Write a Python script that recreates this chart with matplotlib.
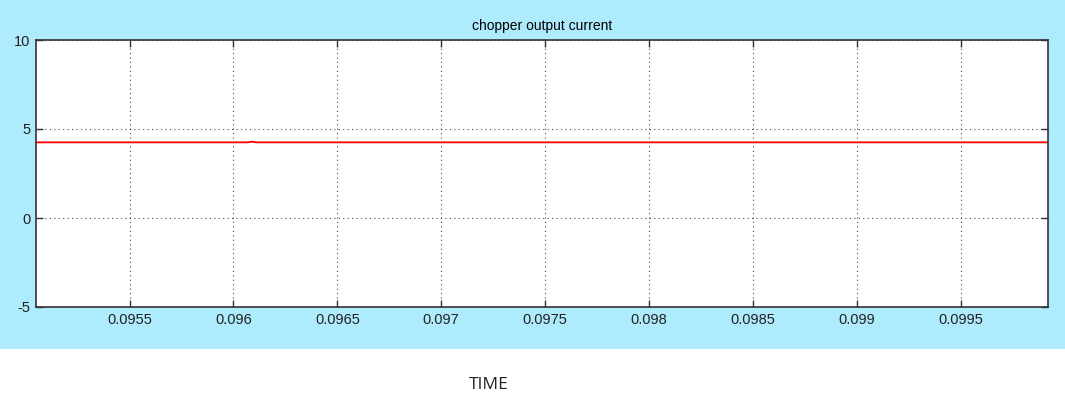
import matplotlib
matplotlib.use("Agg")
import matplotlib.pyplot as plt
from matplotlib.patches import Rectangle

plt.rcParams["axes.unicode_minus"] = False

# chopper current samples (time in s, current in A)
time_s = [0.09505, 0.0958, 0.09607, 0.09609, 0.09611, 0.0965, 0.0975, 0.0985, 0.0995, 0.09992]
current_a = [4.25, 4.25, 4.25, 4.29, 4.25, 4.25, 4.25, 4.25, 4.25, 4.25]

x_ticks = [0.0955, 0.096, 0.0965, 0.097, 0.0975, 0.098, 0.0985, 0.099, 0.0995]
x_labels = ["0.0955", "0.096", "0.0965", "0.097", "0.0975", "0.098", "0.0985", "0.099", "0.0995"]
y_ticks = [-5, 0, 5, 10]

W, H = 1065, 396
fig = plt.figure(figsize=(W / 100, H / 100), dpi=100, facecolor="white")

# light blue scope panel behind the axes
fig.patches.append(Rectangle((0, (H - 349) / H), 1, 349 / H, transform=fig.transFigure,
                             facecolor="#aeebfc", edgecolor="none", zorder=-10))

ax = fig.add_axes([36 / W, (H - 307) / H, (1048 - 36) / W, (307 - 40) / H])
ax.set_zorder(5)
ax.set_facecolor("white")
ax.plot(time_s, current_a, color="#ff0000", linewidth=1.3)

ax.set_xlim(0.09505, 0.09992)
ax.set_ylim(-5, 10)
ax.set_xticks(x_ticks)
ax.set_xticklabels(x_labels)
ax.set_yticks(y_ticks)
ax.grid(True, color="black", linestyle=(0, (1, 3)), linewidth=0.8, alpha=0.7)

for s in ax.spines.values():
    s.set_color("#333333")
    s.set_linewidth(1.2)
ax.tick_params(direction="in", length=5, width=1, color="#333333",
               top=True, right=True, labelsize=10.5, pad=4)
for lab in ax.get_xticklabels() + ax.get_yticklabels():
    lab.set_family("Liberation Sans")
    lab.set_color("#222222")

ax.set_title("chopper output current", fontsize=10, family="Liberation Sans", pad=7)

fig.text(489 / W, 1 - 385 / H, "TIME", ha="center", va="center",
         fontsize=12.5, family="Open Sans", color="#222222")

fig.savefig("out.png", dpi=100, facecolor="white")
